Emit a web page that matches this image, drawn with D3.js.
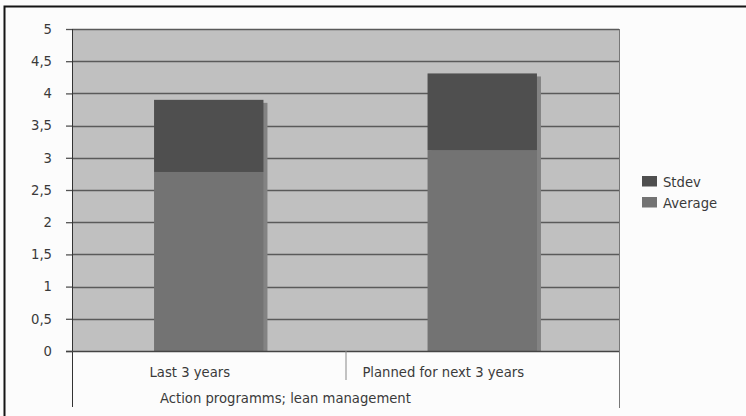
<!DOCTYPE html>
<html>
<head>
<meta charset="utf-8">
<script src="https://cdn.jsdelivr.net/npm/d3@7/dist/d3.min.js"></script>
<style>
  html, body { margin: 0; padding: 0; background: #fcfcfc; }
  svg { display: block; }
  text { font-family: "DejaVu Sans", Verdana, sans-serif; fill: #3a3a3a; }
</style>
</head>
<body>
<svg id="chart" width="746" height="416"></svg>
<script>
// Stacked bars: average with standard deviation on top
const categories = ["Last 3 years", "Planned for next 3 years"];
const groupLabel = "Action programms; lean management";
const averageValues = [2.78, 3.12];
const stdevValues = [1.12, 1.19];
const yTicks = [0, 0.5, 1, 1.5, 2, 2.5, 3, 3.5, 4, 4.5, 5];
const yTickLabels = ["0", "0,5", "1", "1,5", "2", "2,5", "3", "3,5", "4", "4,5", "5"];
const seriesNames = ["Stdev", "Average"];

const colors = { Average: "#737373", Stdev: "#4f4f4f" };
const FS = 13.2;

const svg = d3.select("#chart");
const W = 746, H = 416;
const plot = { left: 72, right: 619, top: 29, bottom: 351 };

// outer chart frame (open towards right/bottom edges)
svg.append("rect")
  .attr("x", 4.5).attr("y", 6.5)
  .attr("width", W + 10).attr("height", H + 10)
  .attr("fill", "#fcfcfc")
  .attr("stroke", "#151515").attr("stroke-width", 2);

const x = d3.scaleBand().domain(categories).range([plot.left, plot.right]).paddingInner(0).paddingOuter(0);
const y = d3.scaleLinear().domain([0, 5]).range([plot.bottom, plot.top]);

// plot background
svg.append("rect")
  .attr("x", plot.left).attr("y", plot.top)
  .attr("width", plot.right - plot.left).attr("height", plot.bottom - plot.top)
  .attr("fill", "#c0c0c0");

// gridlines
svg.append("g").selectAll("line").data(yTicks.filter(d => d > 0)).join("line")
  .attr("x1", plot.left).attr("x2", plot.right)
  .attr("y1", d => Math.round(y(d)) + 0.5).attr("y2", d => Math.round(y(d)) + 0.5)
  .attr("stroke", "#5a5a5a").attr("stroke-width", 1.4);

// stacked data
const stackData = categories.map((c, i) => ({ cat: c, Average: averageValues[i], Stdev: stdevValues[i] }));
const stack = d3.stack().keys(["Average", "Stdev"])(stackData);

const barW = x.bandwidth() * 0.4;
const barX = d => x(d.data.cat) + (x.bandwidth() - barW) / 2;

// soft drop shadow behind each full bar
const defs = svg.append("defs");
defs.append("filter").attr("id", "soft").append("feGaussianBlur").attr("stdDeviation", 0.6);

svg.append("g").selectAll("rect").data(stack[1]).join("rect")
  .attr("x", d => barX(d) + 4)
  .attr("y", d => y(d[1]) + 3)
  .attr("width", barW)
  .attr("height", d => y(0) - y(d[1]) - 3)
  .attr("fill", "#838383")
  .attr("filter", "url(#soft)");

// bars
svg.append("g").selectAll("g").data(stack).join("g")
  .attr("fill", s => colors[s.key])
  .selectAll("rect").data(s => s).join("rect")
  .attr("x", barX)
  .attr("y", d => y(d[1]))
  .attr("width", barW)
  .attr("height", d => y(d[0]) - y(d[1]));

// y axis
const yAxis = d3.axisLeft(y).tickValues(yTicks)
  .tickFormat((d, i) => yTickLabels[i]).tickSize(6).tickPadding(14);
const gy = svg.append("g").attr("transform", `translate(${plot.left},0)`).call(yAxis);
gy.select(".domain").remove();
gy.selectAll(".tick line").attr("stroke", "#555").attr("stroke-width", 1.3);
gy.selectAll(".tick text")
  .attr("font-size", FS).attr("font-family", "DejaVu Sans, Verdana, sans-serif")
  .attr("fill", "#3a3a3a");

// axis frame lines
svg.append("line").attr("x1", plot.left + 0.5).attr("x2", plot.left + 0.5)
  .attr("y1", plot.top).attr("y2", 407).attr("stroke", "#333").attr("stroke-width", 1);
svg.append("line").attr("x1", plot.right + 0.5).attr("x2", plot.right + 0.5)
  .attr("y1", plot.top).attr("y2", 408).attr("stroke", "#777").attr("stroke-width", 1);
svg.append("line").attr("x1", plot.left - 6).attr("x2", plot.right)
  .attr("y1", plot.bottom + 0.5).attr("y2", plot.bottom + 0.5)
  .attr("stroke", "#444").attr("stroke-width", 1.4);

// category dividers
svg.append("g").selectAll("line").data(categories.slice(1)).join("line")
  .attr("x1", d => x(d) + 0.5).attr("x2", d => x(d) + 0.5)
  .attr("y1", plot.bottom).attr("y2", 380)
  .attr("stroke", "#888").attr("stroke-width", 1);

// category labels
const labelShift = [-19, -39];
svg.append("g").selectAll("text").data(categories).join("text")
  .attr("x", (d, i) => x(d) + x.bandwidth() / 2 + labelShift[i])
  .attr("y", 377)
  .attr("text-anchor", "middle")
  .attr("font-size", FS)
  .text(d => d);

// group label
svg.append("text")
  .attr("x", 160).attr("y", 403)
  .attr("font-size", FS)
  .text(groupLabel);

// legend
const legend = svg.append("g").attr("transform", "translate(642,176)");
const items = legend.selectAll("g").data(seriesNames).join("g")
  .attr("transform", (d, i) => `translate(0,${i * 21})`);
items.append("rect").attr("width", 15).attr("height", 10.5).attr("fill", d => colors[d]);
items.append("text").attr("x", 21).attr("y", 10.5).attr("font-size", FS).text(d => d);
</script>
</body>
</html>
